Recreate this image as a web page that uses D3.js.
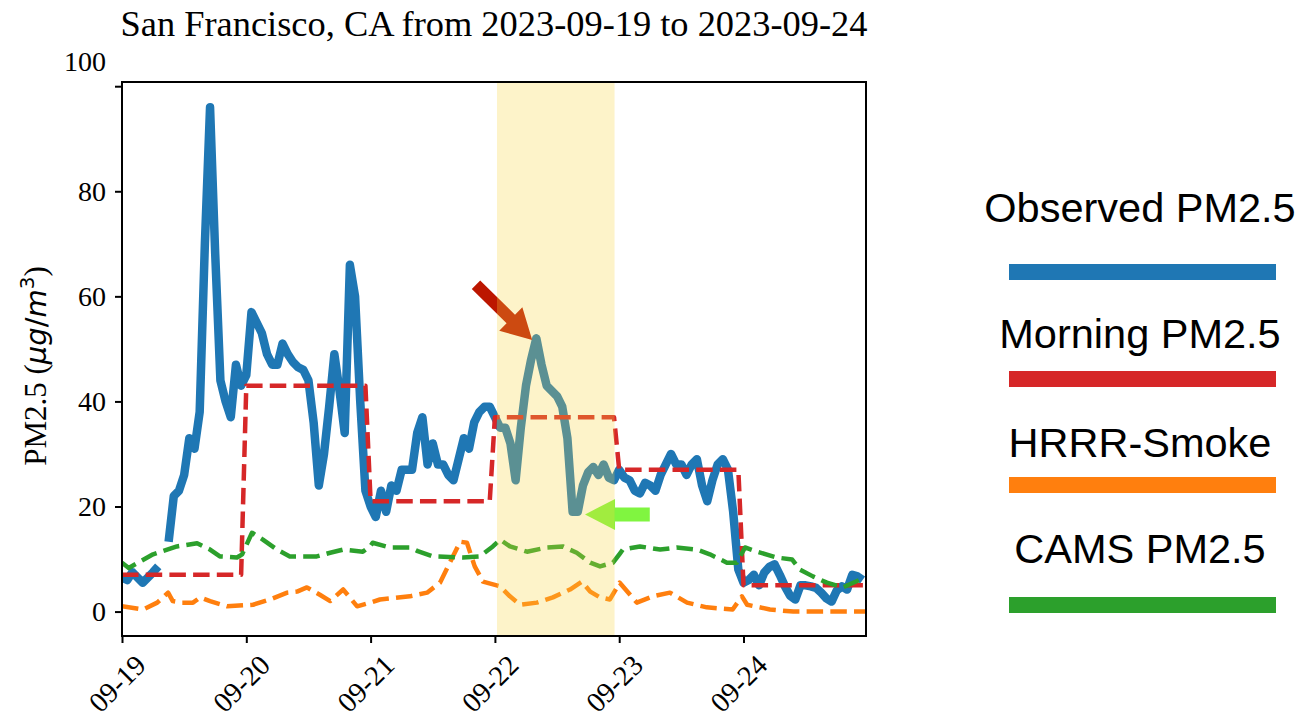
<!DOCTYPE html>
<html>
<head>
<meta charset="utf-8">
<script src="https://cdn.jsdelivr.net/npm/d3@7"></script>
<style>
  body { margin: 0; background: #fff; }
</style>
</head>
<body>
<div id="chart"></div>
<script>
// time axis
const startTime = new Date(2023, 8, 19, 0, 0);
const endTime = new Date(2023, 8, 24, 23, 39);
const tickDays = ['2023-09-19', '2023-09-20', '2023-09-21', '2023-09-22', '2023-09-23', '2023-09-24'];
const yTicks = [0, 20, 40, 60, 80, 100];

// observed PM2.5, hourly from 09-19 00:00 (null = missing)
const observedPM = [
  6.5, 6, 7.5, 6.5, 5.5, 6.5, 7.5, 8.6, null, 13.3, 22, 23, 26, 33, 31, 38, 70, 96, 68, 44, 40, 37, 47, 43,
  45, 57, 55, 53, 49, 47, 47, 51, 49, 47.5, 46.5, 46, 44, 36, 24, 30, 39, 49, 42, 34, 66, 60, 40, 23,
  20, 18, 23, 19, 24, 23, 27, 27, 27, 34, 37, 28, 32, 28, 28, 26, 25, 29, 33, 31, 36, 38, 39, 39,
  37, 35, 35, 32, 25, 35, 43, 48, 52, 47, 43, 42, 41, 39, 33, 19, 19, 24, 26.5, 27.5, 26, 28, 25.5, 25,
  27, 25.5, 25, 23, 22.5, 24.5, 24, 23, 26, 28, 30, 28, 28, 26, 28, 29, 24, 21, 25, 28, 29, 27, 19, 8,
  5.5, 6, 7, 5, 7.4, 8.5, 9, 7, 4.8, 3, 2.3, 5, 5, 4.8, 4.5, 3.6, 2.5, 1.9, 4, 4.8, 4.2, 7, 6.7, 6
];

// morning forecast (hours after start, value)
const morningHours = [0, 23, 24, 47, 48, 71, 72, 95, 96, 119, 120, 143.6];
const morningPM = [7, 7, 43, 43, 21, 21, 37, 37, 27, 27, 5, 5];

// HRRR-Smoke
const hrrrHours = [0, 4.1, 6.8, 8.9, 9.8, 11.6, 13.7, 15.1, 17.0, 20.3, 25.3, 28.6, 31.9, 33.8, 35.7, 38.2, 40.2, 42.7, 45.4, 47.9,
  49.8, 55.6, 58.9, 61.4, 63.3, 65.3, 66.6, 68.1, 69.7, 73.0, 74.9, 76.9, 80.1, 83.2, 86.5, 88.8, 90.4, 92.3, 94.2, 96.1,
  99.4, 102.5, 105.8, 109.1, 112.9, 117.9, 119.7, 120.7, 125.1, 129.6, 143.6];
const hrrrPM = [1.0, 0.4, 1.7, 3.6, 2.0, 1.7, 1.7, 2.7, 2.0, 1.0, 1.3, 2.3, 3.6, 3.8, 4.6, 3.2, 2.0, 4.2, 1.0, 1.7,
  2.3, 2.9, 3.6, 5.5, 9.3, 13.3, 13.1, 8.6, 5.7, 4.8, 2.9, 1.3, 1.7, 2.7, 4.2, 5.7, 3.8, 2.7, 2.3, 5.5,
  1.7, 2.9, 3.6, 1.7, 0.8, 0.4, 2.9, 1.3, 0.4, 0, 0];

// CAMS PM2.5
const camsHours = [0, 1.3, 6.0, 10.6, 14.5, 17.0, 18.9, 22.2, 23.2, 25.1, 27.2, 29.9, 32.4, 37.6, 40.2, 42.7, 46.5, 47.9, 48.4,
  51.7, 55.6, 57.1, 60.0, 65.8, 69.1, 71.6, 73.0, 74.9, 78.2, 82.0, 85.1, 87.8, 90.4, 92.3, 94.8, 96.1, 96.7, 100.0,
  103.9, 107.1, 111.0, 113.5, 116.8, 118.7, 120.3, 122.6, 126.4, 129.4, 130.9, 133.4, 136.1, 139.2, 142.6, 143.6];
const camsPM = [9.3, 8.3, 10.9, 12.4, 13.0, 11.8, 10.5, 10.3, 10.9, 15.0, 13.7, 11.8, 10.5, 10.5, 11.2, 11.8, 11.4, 12.4, 13.1,
  12.2, 12.2, 11.5, 10.5, 10.3, 10.5, 12.4, 13.7, 12.4, 11.4, 12.2, 12.4, 11.2, 9.3, 8.6, 9.3, 11.0, 11.8, 12.4,
  11.8, 12.2, 11.8, 10.9, 9.3, 9.3, 12.2, 11.4, 10.3, 9.9, 8.0, 6.7, 5.5, 4.6, 6.1, 6.0];

// highlighted period and annotation arrows (hours after start, value)
const highlightHours = [72.4, 95.1];
const peakArrow = { from: [68.35, 62.2], to: [79.2, 51.7] };
const dropArrow = { from: [101.9, 18.5], to: [89.4, 18.5] };

const legendNames = ['Observed PM2.5', 'Morning PM2.5', 'HRRR-Smoke', 'CAMS PM2.5'];
const colors = ['#1f77b4', '#d62728', '#ff7f0e', '#2ca02c'];

const width = 1301, height = 718;
const margin = { top: 82, right: 435, bottom: 82, left: 122 };
const serif = '"Liberation Serif", "Times New Roman", serif';
const sans = '"Liberation Sans", Arial, sans-serif';

const atHour = h => new Date(startTime.getTime() + h * 3600e3);

const svg = d3.select('#chart').append('svg')
  .attr('width', width)
  .attr('height', height);

const x = d3.scaleTime()
  .domain([startTime, endTime])
  .range([margin.left, width - margin.right]);
const y = d3.scaleLinear()
  .domain([-4.65, 100.8])
  .range([height - margin.bottom, margin.top]);

svg.append('clipPath').attr('id', 'plot-clip')
  .append('rect')
  .attr('x', margin.left).attr('y', margin.top)
  .attr('width', x.range()[1] - margin.left)
  .attr('height', y.range()[0] - margin.top);

const plot = svg.append('g').attr('clip-path', 'url(#plot-clip)');

const line = d3.line()
  .defined(d => d[1] != null)
  .x(d => x(d[0]))
  .y(d => y(d[1]));

const obsData = observedPM.map((v, i) => [d3.timeHour.offset(startTime, i), v]);
const morningData = morningHours.map((h, i) => [atHour(h), morningPM[i]]);
const hrrrData = hrrrHours.map((h, i) => [atHour(h), hrrrPM[i]]);
const camsData = camsHours.map((h, i) => [atHour(h), camsPM[i]]);

plot.append('path')
  .datum(obsData)
  .attr('d', line)
  .attr('fill', 'none')
  .attr('stroke', colors[0])
  .attr('stroke-width', 8.5)
  .attr('stroke-linejoin', 'round')
  .attr('stroke-linecap', 'butt');

[[morningData, colors[1]], [hrrrData, colors[2]], [camsData, colors[3]]].forEach(([data, c]) => {
  plot.append('path')
    .datum(data)
    .attr('d', line)
    .attr('fill', 'none')
    .attr('stroke', c)
    .attr('stroke-width', 4.5)
    .attr('stroke-dasharray', '16.5,7.2')
    .attr('stroke-linejoin', 'round');
});

// arrows
function arrowPoints(a, shaft, headW, headL) {
  const p0 = [x(atHour(a.from[0])), y(a.from[1])];
  const p1 = [x(atHour(a.to[0])), y(a.to[1])];
  const len = Math.hypot(p1[0] - p0[0], p1[1] - p0[1]);
  const u = [(p1[0] - p0[0]) / len, (p1[1] - p0[1]) / len];
  const n = [-u[1], u[0]];
  const b = [p1[0] - u[0] * headL, p1[1] - u[1] * headL];
  const off = (p, k) => [p[0] + n[0] * k, p[1] + n[1] * k];
  return [off(p0, shaft / 2), off(b, shaft / 2), off(b, headW / 2), p1,
    off(b, -headW / 2), off(b, -shaft / 2), off(p0, -shaft / 2)];
}

plot.append('polygon')
  .attr('points', arrowPoints(peakArrow, 12, 33, 30).join(' '))
  .attr('fill', '#bc1600');
plot.append('polygon')
  .attr('points', arrowPoints(dropArrow, 14, 31, 30).join(' '))
  .attr('fill', '#80f540');

// highlighted day
plot.append('rect')
  .attr('x', x(atHour(highlightHours[0])))
  .attr('y', margin.top)
  .attr('width', x(atHour(highlightHours[1])) - x(atHour(highlightHours[0])))
  .attr('height', y.range()[0] - margin.top)
  .attr('fill', 'rgb(248,212,60)')
  .attr('fill-opacity', 0.28);

// frame
svg.append('rect')
  .attr('x', margin.left).attr('y', margin.top)
  .attr('width', x.range()[1] - margin.left)
  .attr('height', y.range()[0] - margin.top)
  .attr('fill', 'none')
  .attr('stroke', '#000')
  .attr('stroke-width', 2);

// y axis
const yAxis = svg.append('g')
  .attr('transform', `translate(${margin.left},0)`)
  .call(d3.axisLeft(y).tickValues(yTicks).tickSize(7).tickPadding(9).tickFormat(d3.format('d')));
yAxis.select('.domain').remove();
yAxis.selectAll('line').attr('stroke-width', 2);
yAxis.selectAll('text')
  .attr('font-family', serif)
  .attr('font-size', 28)
  .attr('fill', '#000')
  .attr('dy', d => d === 100 ? '-0.55em' : '0.32em');

// x axis
const xAxis = svg.append('g')
  .attr('transform', `translate(0,${y.range()[0]})`)
  .call(d3.axisBottom(x)
    .tickValues(tickDays.map(s => d3.timeParse('%Y-%m-%d')(s)))
    .tickSize(7)
    .tickFormat(d3.timeFormat('%m-%d')));
xAxis.select('.domain').remove();
xAxis.selectAll('line').attr('stroke-width', 2);
xAxis.selectAll('text')
  .attr('font-family', serif)
  .attr('font-size', 28.5)
  .attr('fill', '#000')
  .attr('text-anchor', 'end')
  .attr('dy', 0)
  .attr('y', 0)
  .attr('transform', 'translate(25,31) rotate(-45)');

// title
svg.append('text')
  .attr('x', (margin.left + x.range()[1]) / 2)
  .attr('y', 36)
  .attr('text-anchor', 'middle')
  .attr('font-family', serif)
  .attr('font-size', 36.4)
  .text('San Francisco, CA from 2023-09-19 to 2023-09-24');

// y label
const yl = svg.append('text')
  .attr('transform', 'translate(46,366) rotate(-90)')
  .attr('text-anchor', 'middle')
  .attr('font-family', serif)
  .attr('font-size', 31);
yl.append('tspan').text('PM2.5 (');
yl.append('tspan').attr('font-family', '"DejaVu Sans", sans-serif').attr('font-style', 'italic').attr('font-size', 29).text('μg');
yl.append('tspan').attr('font-family', '"DejaVu Sans", sans-serif').attr('font-size', 29).text('/');
yl.append('tspan').attr('font-family', '"DejaVu Sans", sans-serif').attr('font-style', 'italic').attr('font-size', 29).text('m');
yl.append('tspan').attr('font-family', '"DejaVu Sans", sans-serif').attr('font-size', 20).attr('dy', -12).text('3');
yl.append('tspan').attr('dy', 12).text(')');

// legend
const legendX = 1140;
const legendTextY = [222, 348, 457, 563];
const legendLineY = [272, 379, 485, 605];
legendNames.forEach((name, i) => {
  svg.append('text')
    .attr('x', legendX)
    .attr('y', legendTextY[i])
    .attr('text-anchor', 'middle')
    .attr('font-family', sans)
    .attr('font-size', 41.5)
    .text(name);
  svg.append('line')
    .attr('x1', 1009).attr('x2', 1276)
    .attr('y1', legendLineY[i]).attr('y2', legendLineY[i])
    .attr('stroke', colors[i])
    .attr('stroke-width', 16);
});
</script>
</body>
</html>
